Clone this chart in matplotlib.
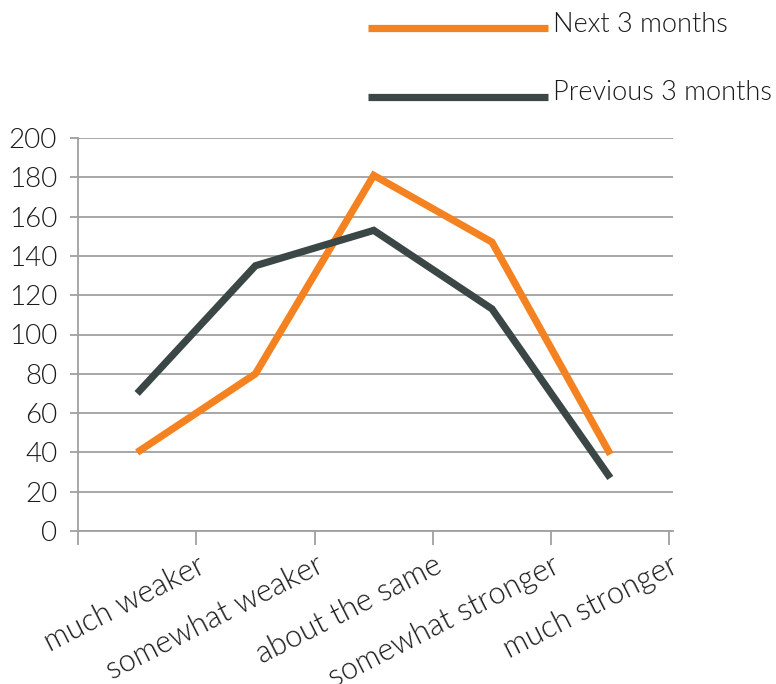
import matplotlib
matplotlib.use("Agg")
import matplotlib.pyplot as plt
import matplotlib.transforms as mtransforms
from matplotlib.lines import Line2D

plt.rcParams['font.family'] = ['Lato', 'DejaVu Sans']
plt.rcParams['font.weight'] = 300

categories = ["much weaker", "somewhat weaker", "about the same", "somewhat stronger", "much stronger"]
next_3_months = [40, 80, 181, 147, 39]
previous_3_months = [70, 135, 153, 113, 27]
y_ticks = [0, 20, 40, 60, 80, 100, 120, 140, 160, 180, 200]

ORANGE = "#F58220"
DARK = "#3B4746"
GRID = "#A0A0A0"
TXT = "#1A1A1A"
FS = 20

fig = plt.figure(figsize=(7.76, 6.84), dpi=100)
ax = fig.add_axes([78/776, 1-531/684, (673-78)/776, (531-138)/684])

x = list(range(len(categories)))
ax.plot(x, next_3_months, color=ORANGE, lw=5.2, solid_capstyle='butt', solid_joinstyle='miter', zorder=3)
ax.plot(x, previous_3_months, color=DARK, lw=5.2, solid_capstyle='butt', solid_joinstyle='miter', zorder=3)

ax.set_xlim(-0.47, 4.53)
ax.set_ylim(0, 200)
ax.set_yticks(y_ticks)
ax.set_yticklabels([str(v) for v in y_ticks])
ax.yaxis.grid(True, color=GRID, lw=1.3)
ax.set_axisbelow(True)

for s in ['top', 'right']:
    ax.spines[s].set_visible(False)
for s in ['left', 'bottom']:
    ax.spines[s].set_color(GRID)
    ax.spines[s].set_linewidth(1.3)

ax.tick_params(axis='y', length=6, width=1.3, color=GRID, pad=9, labelsize=FS, labelcolor=TXT)

bounds = [i - 0.5 for i in range(len(categories) + 1)]
ax.set_xticks(bounds, minor=True)
ax.tick_params(axis='x', which='minor', length=10, width=1.3, color=GRID)
ax.set_xticks(x)
ax.set_xticklabels(categories)
ax.tick_params(axis='x', which='major', length=0, pad=0, labelsize=22, labelcolor=TXT)
offset = mtransforms.ScaledTranslation(66/100, -33/100, fig.dpi_scale_trans)
for lbl in ax.get_xticklabels():
    lbl.set_rotation(27)
    lbl.set_ha('right')
    lbl.set_va('center')
    lbl.set_rotation_mode('anchor')
    lbl.set_transform(lbl.get_transform() + offset)

for yy, col, name in [(28, ORANGE, "Next 3 months"), (97, DARK, "Previous 3 months")]:
    fig.add_artist(Line2D([368/776, 548/776], [1-yy/684, 1-yy/684], color=col, lw=5.2,
                          solid_capstyle='butt', transform=fig.transFigure))
    fig.text(553/776, 1-(yy-4)/684, name, fontsize=19.5, color=TXT, va='center', ha='left')

fig.savefig("out.png", dpi=100)
